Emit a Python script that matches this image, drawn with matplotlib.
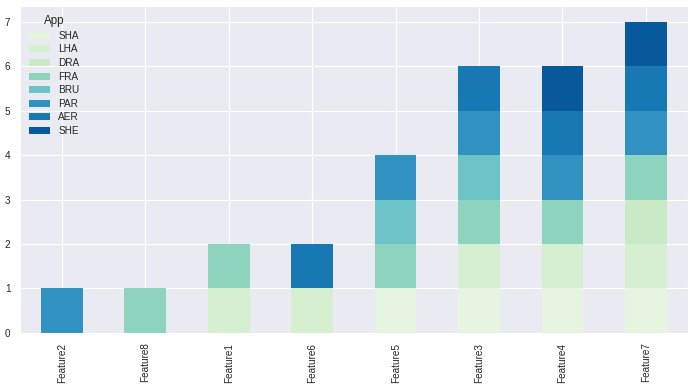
import matplotlib
matplotlib.use("Agg")
import matplotlib.pyplot as plt
import seaborn as sns
import pandas as pd

sns.set_style("darkgrid")
plt.rcParams['font.family'] = ['Liberation Sans', 'DejaVu Sans']

features = ["Feature2", "Feature8", "Feature1", "Feature6",
            "Feature5", "Feature3", "Feature4", "Feature7"]
apps = ["SHA", "LHA", "DRA", "FRA", "BRU", "PAR", "AER", "SHE"]

# counts per app for each feature
SHA = [0, 0, 0, 0, 1, 1, 1, 1]
LHA = [0, 0, 1, 1, 0, 1, 1, 1]
DRA = [0, 0, 0, 0, 0, 0, 0, 1]
FRA = [0, 1, 1, 0, 1, 1, 1, 1]
BRU = [0, 0, 0, 0, 1, 1, 0, 0]
PAR = [1, 0, 0, 0, 1, 1, 1, 1]
AER = [0, 0, 0, 1, 0, 1, 1, 1]
SHE = [0, 0, 0, 0, 0, 0, 1, 1]

df = pd.DataFrame({"SHA": SHA, "LHA": LHA, "DRA": DRA, "FRA": FRA,
                   "BRU": BRU, "PAR": PAR, "AER": AER, "SHE": SHE},
                  index=features)
df.columns.name = "App"

# spots on the GnBu map, picked to match the shades
cmap = plt.get_cmap("GnBu")
colors = [cmap(p) for p in [0.10, 0.19, 0.26, 0.45, 0.54, 0.73, 0.82, 0.92]]

fig, ax = plt.subplots(figsize=(6.96, 3.87), dpi=100)
df.plot(kind="bar", stacked=True, color=colors, ax=ax, width=0.5, linewidth=0)

ax.set_xlabel("")
ax.set_yticks(range(0, 8))
ax.tick_params(axis="both", labelsize=7.2, colors="#262626")
leg = ax.legend(title="App", loc="upper left", frameon=False, fontsize=7.2,
                title_fontsize=8.4, handlelength=2.1, labelspacing=0.36)

plt.subplots_adjust(left=0.029, right=0.988, bottom=0.14, top=0.984)
plt.savefig("out.png", dpi=100)
